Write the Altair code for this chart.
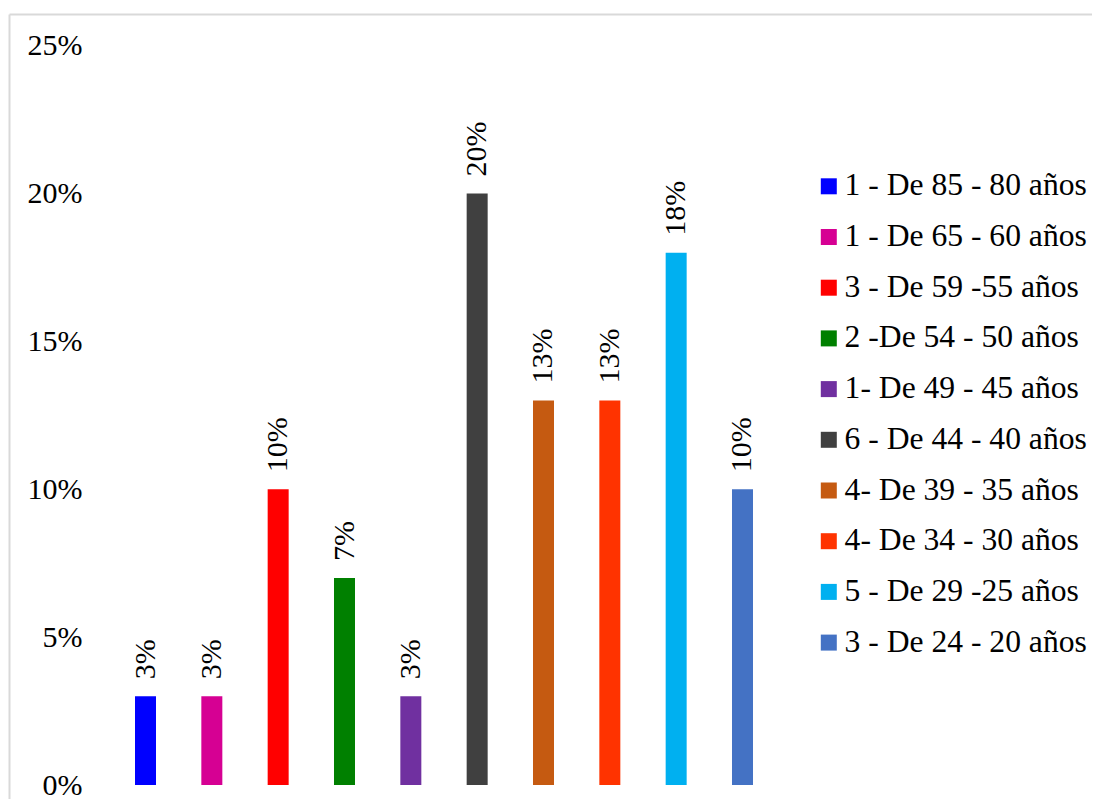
import altair as alt
import pandas as pd

categories = [
    "1 - De 85 - 80 años",
    "1 - De 65 - 60 años",
    "3 - De 59 -55 años",
    "2 -De 54 - 50 años",
    "1- De 49 - 45 años",
    "6 - De 44 - 40 años",
    "4- De 39 - 35 años",
    "4-  De 34 - 30 años",
    "5 - De 29  -25 años",
    "3 - De 24 - 20 años",
]
values = [0.03, 0.03, 0.10, 0.07, 0.03, 0.20, 0.13, 0.13, 0.18, 0.10]
labels = ["3%", "3%", "10%", "7%", "3%", "20%", "13%", "13%", "18%", "10%"]
colors = ["#0000FF", "#D60093", "#FF0000", "#008000", "#7030A0",
          "#404040", "#C55A11", "#FF3300", "#00B0F0", "#4472C4"]
y_ticks = [0, 0.05, 0.10, 0.15, 0.20, 0.25]

df = pd.DataFrame({"cat": categories, "val": values, "lab": labels})

FONT = "Liberation Serif, Times New Roman, DejaVu Serif, serif"
FRAME = "#D9D9D9"

x_scale = alt.Scale(type="band", paddingInner=0.6834, paddingOuter=0,
                    range=[126, 744])
y_scale = alt.Scale(domain=[-0.00473, 0.2607], nice=False, zero=False)

y_axis = alt.Axis(values=y_ticks, format=".0%", title=None, grid=False,
                  ticks=False, tickSize=0, labelPadding=-73, labelAlign="right",
                  labelFont=FONT, labelFontSize=30, labelColor="#000000",
                  domainColor=FRAME, domainWidth=2, labelBaseline="middle")

bars = alt.Chart(df).mark_bar().encode(
    x=alt.X("cat:N", sort=categories, scale=x_scale, axis=None),
    y=alt.Y("val:Q", scale=y_scale, axis=y_axis),
    y2=alt.datum(0),
    color=alt.Color(
        "cat:N", sort=categories,
        scale=alt.Scale(domain=categories, range=colors),
        legend=alt.Legend(
            title=None, orient="none", legendX=804, legendY=156.5,
            symbolType="square", symbolSize=256, symbolStrokeWidth=0,
            labelFont=FONT, labelFontSize=31.6, labelColor="#000000",
            labelOffset=0, labelLimit=0, rowPadding=17.7, padding=0,
        ),
    ),
)

text = alt.Chart(df).mark_text(
    angle=270, align="left", baseline="middle", dx=17,
    font=FONT, fontSize=30, color="#000000",
).encode(
    x=alt.X("cat:N", sort=categories, scale=x_scale, axis=None),
    y=alt.Y("val:Q", scale=y_scale),
    text="lab:N",
)

frame_top = alt.Chart(df).mark_point(opacity=0).encode(
    x=alt.X("val:Q", scale=alt.Scale(domain=[0, 1]),
            axis=alt.Axis(orient="top", labels=False, ticks=False, title=None,
                          grid=False, domainColor=FRAME, domainWidth=2)),
    y=alt.Y("val:Q", scale=y_scale),
)

chart = alt.layer(bars, text, frame_top).resolve_scale(
    x="independent"
).properties(
    width=1083, height=785,
    padding={"left": 1, "top": 6, "right": 0, "bottom": 0},
    autosize="none",
    background="#FFFFFF",
).configure_view(stroke=None)

chart.save("out.html", embed_options={"renderer": "svg", "actions": False})
